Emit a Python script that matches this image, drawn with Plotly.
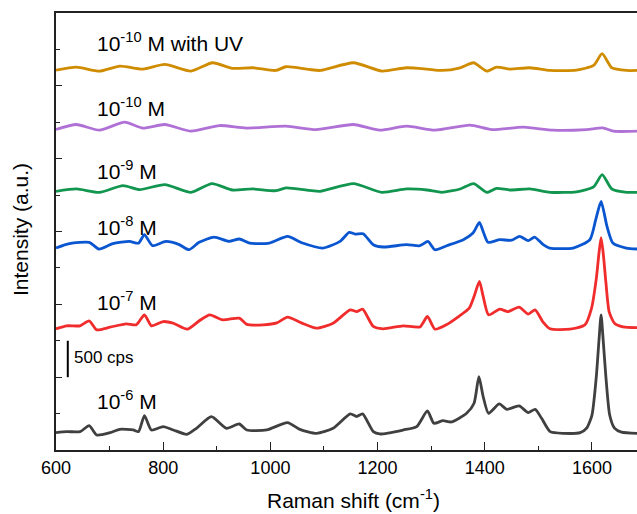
import plotly.graph_objects as go

x_1e6 = [600, 620, 645, 662, 676, 701, 719, 744, 754, 765, 778, 800, 819, 844, 862, 890, 918, 942, 956, 993,
         1032, 1055, 1086, 1117, 1149, 1161, 1172, 1192, 1204, 1248, 1273, 1293, 1305, 1322, 1338, 1366, 1380,
         1389, 1397, 1407, 1427, 1441, 1464, 1481, 1494, 1506, 1522, 1547, 1578, 1590, 1600, 1608, 1613, 1617,
         1621, 1626, 1633, 1642, 1655, 1684]
y_1e6 = [238, 252, 252, 334, 206, 238, 284, 275, 252, 472, 275, 321, 275, 215, 298, 458, 298, 357, 275, 275,
         376, 284, 229, 298, 495, 460, 495, 252, 220, 275, 321, 536, 367, 403, 385, 504, 642,
         1008, 733, 504, 632, 559, 605, 513, 559, 435, 252, 229, 238, 300, 480, 1000, 1500, 1856,
         1500, 1000, 480, 300, 245, 229]

x_1e7 = [600, 620, 645, 662, 676, 701, 731, 750, 765, 778, 800, 819, 845, 868, 887, 911, 942, 956, 987, 1012,
         1032, 1058, 1086, 1117, 1149, 1161, 1172, 1192, 1210, 1248, 1279, 1293, 1307, 1328, 1353, 1371, 1380,
         1390, 1397, 1407, 1428, 1443, 1464, 1481, 1494, 1508, 1522, 1559, 1587, 1599, 1608, 1613, 1617, 1621,
         1626, 1632, 1642, 1658, 1684]
y_1e7 = [1664, 1705, 1705, 1774, 1650, 1687, 1732, 1720, 1856, 1705, 1764, 1740, 1659, 1778, 1856, 1787, 1810,
         1725, 1719, 1745, 1824, 1745, 1673, 1741, 1925, 1900, 1934, 1696, 1664, 1705, 1690, 1833, 1659, 1719,
         1843, 1948, 2108, 2314, 2108, 1856, 1934, 1900, 1962, 1866, 1925, 1764, 1664, 1660, 1719, 1940, 2350,
         2700, 2916, 2700, 2300, 1900, 1740, 1690, 1680]

x_1e8 = [600, 625, 662, 680, 706, 737, 754, 765, 780, 805, 830, 848, 867, 895, 923, 942, 961, 998, 1032, 1060,
         1098, 1130, 1147, 1158, 1173, 1192, 1211, 1254, 1279, 1294, 1307, 1329, 1360, 1378, 1390, 1398, 1406,
         1428, 1450, 1465, 1481, 1493, 1509, 1521, 1565, 1596, 1607, 1617, 1628, 1639, 1664, 1684]
y_1e8 = [2773, 2833, 2851, 2759, 2833, 2864, 2840, 2956, 2805, 2864, 2820, 2750, 2851, 2924, 2864, 2897, 2840,
         2842, 2933, 2842, 2773, 2864, 2988, 2965, 2970, 2819, 2787, 2819, 2805, 2864, 2750, 2805, 2887, 2979,
         3125, 2979, 2851, 2887, 2880, 2933, 2874, 2924, 2819, 2773, 2773, 2887, 3162, 3414, 3070, 2842, 2773, 2760]

x_1e9 = [600, 638, 681, 725, 756, 803, 852, 891, 929, 967, 1010, 1029, 1072, 1093, 1155, 1208, 1254, 1292, 1320,
         1354, 1379, 1404, 1422, 1447, 1484, 1522, 1571, 1603, 1619, 1637, 1665, 1684]
y_1e9 = [3552, 3584, 3538, 3630, 3575, 3644, 3538, 3658, 3570, 3584, 3560, 3598, 3565, 3552, 3658, 3538, 3584,
         3570, 3538, 3584, 3658, 3538, 3593, 3570, 3584, 3538, 3545, 3612, 3781, 3584, 3538, 3538]

x_1e10 = [600, 638, 681, 728, 762, 803, 852, 905, 955, 1029, 1085, 1155, 1204, 1254, 1307, 1372, 1413, 1472,
          1528, 1590, 1620, 1640, 1684]
y_1e10 = [4400, 4469, 4391, 4501, 4420, 4469, 4377, 4455, 4420, 4446, 4400, 4469, 4391, 4446, 4391, 4460, 4400,
          4432, 4391, 4400, 4423, 4377, 4377]

x_uv = [600, 638, 681, 719, 762, 803, 852, 892, 929, 967, 1010, 1029, 1072, 1093, 1155, 1208, 1254, 1292, 1320,
        1354, 1379, 1404, 1422, 1447, 1484, 1522, 1571, 1603, 1619, 1637, 1665, 1684]
y_uv = [5216, 5257, 5202, 5271, 5230, 5294, 5202, 5317, 5240, 5248, 5211, 5262, 5225, 5211, 5317, 5202, 5248,
        5230, 5211, 5248, 5317, 5202, 5257, 5230, 5248, 5211, 5216, 5280, 5441, 5248, 5211, 5211]

series_x = [x_1e6, x_1e7, x_1e8, x_1e9, x_1e10, x_uv]
series_y = [y_1e6, y_1e7, y_1e8, y_1e9, y_1e10, y_uv]
series_names = ["10<sup>-6</sup> M", "10<sup>-7</sup> M", "10<sup>-8</sup> M",
                "10<sup>-9</sup> M", "10<sup>-10</sup> M", "10<sup>-10</sup> M with UV"]
series_colors = ["#404040", "#F02C2C", "#0A55D0", "#12964F", "#B071D6", "#D08C00"]
label_y = [688, 2049, 3080, 3850, 4716, 5596]
label_x = 672

x_ticks = [600, 800, 1000, 1200, 1400, 1600]

FONT = "Liberation Sans, Arial, sans-serif"

fig = go.Figure()
for xs, ys, name, col in zip(series_x, series_y, series_names, series_colors):
    assert len(xs) == len(ys)
    fig.add_trace(go.Scatter(x=xs, y=ys, mode="lines", name=name,
                             line=dict(color=col, width=2.8, shape="spline", smoothing=0.6),
                             showlegend=False, hoverinfo="skip"))

for name, ly in zip(series_names, label_y):
    fig.add_annotation(x=label_x, y=ly, xref="x", yref="y", text=name, showarrow=False,
                       xanchor="left", yanchor="middle",
                       font=dict(family=FONT, size=21, color="black"))

# scale bar
fig.add_shape(type="line", xref="x", yref="y", x0=622, x1=622, y0=1000, y1=1500,
              line=dict(color="black", width=2))
fig.add_annotation(x=629, y=1265, xref="x", yref="y", text="500 cps", showarrow=False,
                   xanchor="left", yanchor="middle", font=dict(family=FONT, size=17, color="black"))

W, H = 637, 514
pl, pr, pt, pb = 56, 0, 13, 64
plot_w = W - pl - pr
plot_h = H - pt - pb
left_page, bottom_page = pl, H - pb

fig.add_annotation(x=(353 - left_page) / plot_w, y=(bottom_page - 499) / plot_h,
                   xref="paper", yref="paper", text="Raman shift (cm<sup>-1</sup>)",
                   showarrow=False, xanchor="center", yanchor="middle",
                   font=dict(family=FONT, size=21, color="black"))
fig.add_annotation(x=(21 - left_page) / plot_w, y=(bottom_page - 230) / plot_h,
                   xref="paper", yref="paper", text="Intensity (a.u.)", textangle=-90,
                   showarrow=False, xanchor="center", yanchor="middle",
                   font=dict(family=FONT, size=21, color="black"))

fig.update_layout(
    width=W, height=H,
    margin=dict(l=pl, r=pr, t=pt, b=pb, autoexpand=False),
    paper_bgcolor="white", plot_bgcolor="white",
    font=dict(family=FONT, color="black"),
    xaxis=dict(range=[600, 1684], tickvals=x_ticks, ticks="inside", ticklen=8, tickwidth=1.3,
               tickcolor="#222", showline=True, linecolor="#222", linewidth=1.8, mirror=True,
               showgrid=False, zeroline=False, tickfont=dict(size=18, family=FONT), automargin=False,
               minor=dict(dtick=100, tick0=600, ticks="inside", ticklen=4, tickcolor="#222", tickwidth=1.3)),
    yaxis=dict(range=[0, 6000], dtick=1000, tick0=0, ticks="inside", ticklen=6, tickwidth=1.3,
               tickcolor="#222", showline=True, linecolor="#222", linewidth=1.8, mirror=False,
               showgrid=False, zeroline=False, showticklabels=False, automargin=False,
               minor=dict(dtick=500, tick0=0, ticks="inside", ticklen=4, tickcolor="#222", tickwidth=1.3)),
)

fig.write_html("out.html", config={"displayModeBar": False},
               post_script="document.body.style.margin='0';document.documentElement.style.overflow='hidden';")
